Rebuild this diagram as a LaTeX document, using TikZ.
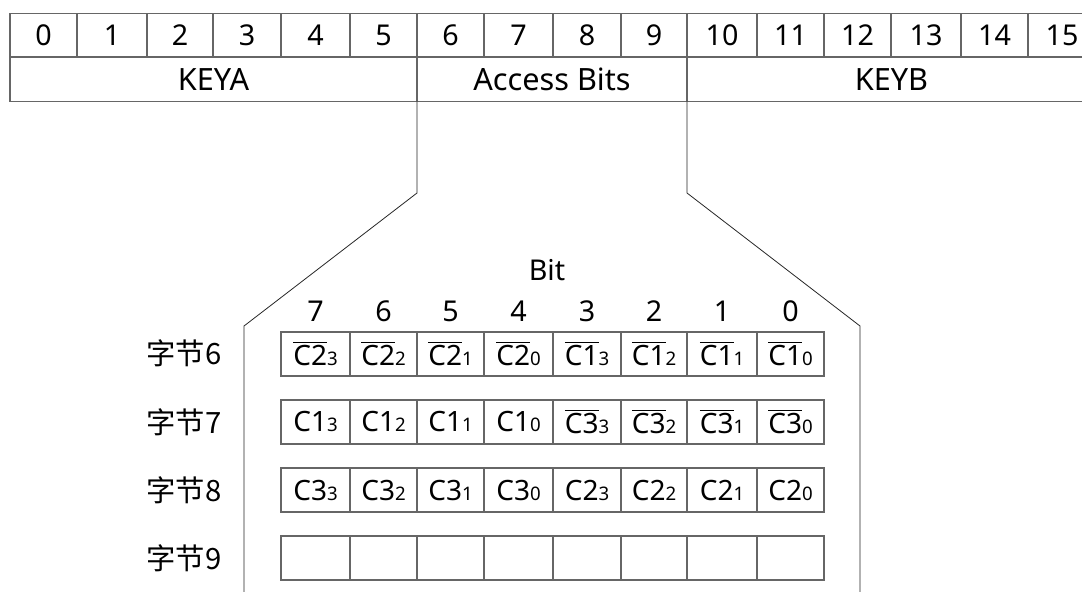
\documentclass[tikz,border=0pt]{standalone}
\usepackage{fontspec}
\setmainfont{Noto Sans}
\newfontfamily\cjk{Noto Sans CJK SC}
% column edges of the byte table (in px)
\newcommand\ex[1]{\ifcase\numexpr#1\relax 10\or 77\or 147\or 213\or 281\or 350\or 417\or 484\or 553\or 621\or 687\or 757\or 824\or 891\or 961\or 1028\or 1096\fi}
% overlined text and small low index
\newcommand\barred[1]{\vbox{\hrule height 1.2pt\kern 1.8pt\hbox{#1}}}
\newcommand\lo[1]{{\fontsize{14}{15}\selectfont #1}}
\tikzset{
  cell/.style={draw=black!60, line width=0.8pt, inner sep=0pt, outer sep=0pt, anchor=north west},
  toptext/.style={font=\fontsize{21.5}{24}\selectfont},
  midtext/.style={font=\fontsize{23}{25}\selectfont},
  bittext/.style={font=\fontsize{21.5}{24}\selectfont, inner sep=0pt},
  celltext/.style={font=\fontsize{21}{23}\selectfont},
  rowlabel/.style={font=\cjk\fontsize{22}{24}\selectfont, inner sep=0pt},
  link/.style={draw=black!85, line width=0.6pt}
}
\begin{document}
\begin{tikzpicture}[x=0.75pt,y=-0.75pt]
\useasboundingbox (0,0) rectangle (1082,592);
\clip (0,0) rectangle (1082,592);

% byte numbers 0..15
\foreach \i in {0,...,15} {
  \pgfmathsetmacro\a{\ex{\i}}
  \pgfmathsetmacro\b{\ex{\i+1}}
  \node[cell, toptext, minimum width={(\b-\a)*0.75pt}, minimum height=43.5*0.75pt] (t\i) at (\a,13.5) {\i};
}

% field row
\node[cell, midtext, minimum width=407*0.75pt, minimum height=44.5*0.75pt] (keya) at (10,57) {KEYA};
\node[cell, midtext, minimum width=270*0.75pt, minimum height=44.5*0.75pt] (acc) at (417,57) {Access Bits};
\node[cell, midtext, minimum width=409*0.75pt, minimum height=44.5*0.75pt] (keyb) at (687,57) {KEYB};

% zoom-out outline
\coordinate (lk1) at (417,193);
\coordinate (lk2) at (244,326);
\coordinate (lb) at (244,592);
\coordinate (rk1) at (687,193);
\coordinate (rk2) at (860,326);
\coordinate (rb) at (860,592);
\draw[link] (acc.south west) -- (lk1) -- (lk2) -- (lb);
\draw[link] (acc.south east) -- (rk1) -- (rk2) -- (rb);

% bit header
\node[bittext] (bit) at (547,270) {Bit};
\foreach \k in {0,...,7} {
  \pgfmathsetmacro\a{\ex{\k+4}}
  \pgfmathsetmacro\b{\ex{\k+5}}
  \pgfmathtruncatemacro\n{7-\k}
  \node[bittext] (h\k) at ({(\a+\b)/2},311) {\n};
}

% byte rows
\foreach \txt [count=\k from 0] in {
  {\barred{C2}\lo{3}},{\barred{C2}\lo{2}},{\barred{C2}\lo{1}},{\barred{C2}\lo{0}},
  {\barred{C1}\lo{3}},{\barred{C1}\lo{2}},{\barred{C1}\lo{1}},{\barred{C1}\lo{0}}} {
  \pgfmathsetmacro\a{\ex{\k+4}}
  \pgfmathsetmacro\b{\ex{\k+5}}
  \node[cell, celltext, minimum width={(\b-\a)*0.75pt}, minimum height=44*0.75pt] (r6c\k) at (\a,332) {\txt};
}
\foreach \txt [count=\k from 0] in {
  {C1\lo{3}},{C1\lo{2}},{C1\lo{1}},{C1\lo{0}},
  {\barred{C3}\lo{3}},{\barred{C3}\lo{2}},{\barred{C3}\lo{1}},{\barred{C3}\lo{0}}} {
  \pgfmathsetmacro\a{\ex{\k+4}}
  \pgfmathsetmacro\b{\ex{\k+5}}
  \node[cell, celltext, minimum width={(\b-\a)*0.75pt}, minimum height=44*0.75pt] (r7c\k) at (\a,400) {\txt};
}
\foreach \txt [count=\k from 0] in {
  {C3\lo{3}},{C3\lo{2}},{C3\lo{1}},{C3\lo{0}},
  {C2\lo{3}},{C2\lo{2}},{C2\lo{1}},{C2\lo{0}}} {
  \pgfmathsetmacro\a{\ex{\k+4}}
  \pgfmathsetmacro\b{\ex{\k+5}}
  \node[cell, celltext, minimum width={(\b-\a)*0.75pt}, minimum height=44*0.75pt] (r8c\k) at (\a,468) {\txt};
}
\foreach \k in {0,...,7} {
  \pgfmathsetmacro\a{\ex{\k+4}}
  \pgfmathsetmacro\b{\ex{\k+5}}
  \node[cell, minimum width={(\b-\a)*0.75pt}, minimum height=44*0.75pt] (r9c\k) at (\a,536) {};
}

% row labels
\node[rowlabel] (b6) at (184,353) {字节6};
\node[rowlabel] (b7) at (184,422) {字节7};
\node[rowlabel] (b8) at (184,490) {字节8};
\node[rowlabel] (b9) at (184,558) {字节9};
\end{tikzpicture}
\end{document}
